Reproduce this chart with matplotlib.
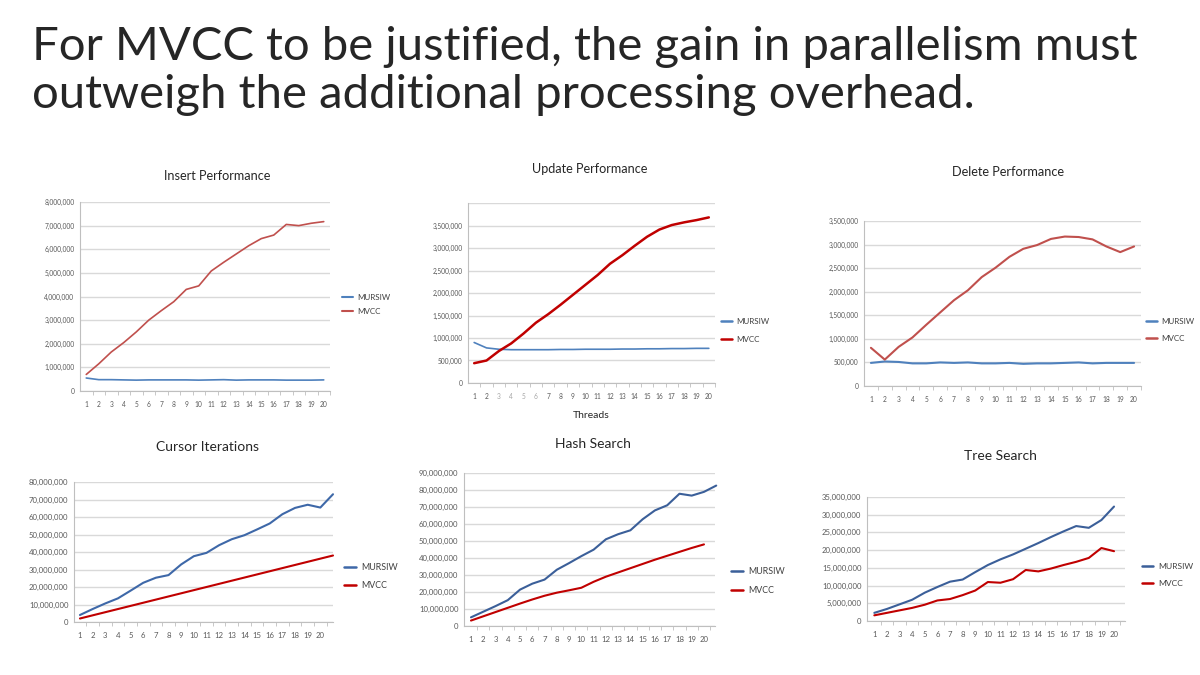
import matplotlib
matplotlib.use('Agg')
import matplotlib.pyplot as plt
import numpy as np

plt.rcParams['font.family'] = ['Lato', 'DejaVu Sans']

W, H = 1200, 675

threads = [str(i) for i in range(1, 21)]

# values (millions of operations per second)
insert_mursiw = [0.55, 0.48, 0.48, 0.47, 0.46, 0.47, 0.47, 0.47, 0.47, 0.46,
                 0.47, 0.48, 0.46, 0.47, 0.47, 0.47, 0.46, 0.46, 0.46, 0.47]
insert_mvcc = [0.70, 1.15, 1.65, 2.05, 2.50, 3.00, 3.40, 3.78, 4.30, 4.45,
               5.08, 5.45, 5.80, 6.15, 6.45, 6.60, 7.05, 7.00, 7.10, 7.17]

update_mursiw = [0.90, 0.78, 0.75, 0.74, 0.74, 0.74, 0.74, 0.745, 0.745, 0.75,
                 0.75, 0.75, 0.755, 0.755, 0.76, 0.76, 0.765, 0.765, 0.77, 0.77]
update_mvcc = [0.44, 0.50, 0.71, 0.88, 1.10, 1.34, 1.53, 1.74, 1.96, 2.18,
               2.40, 2.65, 2.84, 3.05, 3.25, 3.41, 3.51, 3.57, 3.62, 3.68]

delete_mursiw = [0.49, 0.52, 0.51, 0.48, 0.48, 0.50, 0.49, 0.50, 0.48, 0.48,
                 0.49, 0.47, 0.48, 0.48, 0.49, 0.50, 0.48, 0.49, 0.49, 0.49]
delete_mvcc = [0.81, 0.56, 0.83, 1.03, 1.30, 1.56, 1.82, 2.03, 2.31, 2.51,
               2.74, 2.91, 2.99, 3.12, 3.17, 3.16, 3.11, 2.96, 2.84, 2.96]

cursor_mursiw = [4.0, 7.4, 10.6, 13.5, 17.9, 22.4, 25.3, 26.8, 32.9, 37.6,
                 39.5, 43.9, 47.3, 49.6, 52.9, 56.3, 61.6, 65.2, 67.0, 65.4, 73.0]
cursor_mvcc = [2.0, 3.8, 5.6, 7.4, 9.2, 11.0, 12.8, 14.6, 16.4, 18.2,
               20.0, 21.8, 23.6, 25.4, 27.2, 29.0, 30.8, 32.6, 34.4, 36.2, 38.0]

hash_mursiw = [5.1, 8.4, 11.7, 15.2, 21.4, 24.9, 27.3, 33.1, 37.0, 41.1,
               44.9, 51.0, 54.0, 56.3, 62.8, 68.0, 71.0, 77.8, 76.7, 78.9, 82.6]
hash_mvcc = [3.2, 5.7, 8.2, 10.7, 13.2, 15.6, 17.8, 19.6, 21.0, 22.5,
             26.0, 29.0, 31.5, 34.0, 36.5, 39.0, 41.3, 43.6, 45.9, 48.0]

tree_mursiw = [2.3, 3.4, 4.7, 6.0, 8.0, 9.6, 11.1, 11.7, 13.8, 15.8,
               17.4, 18.8, 20.4, 22.0, 23.7, 25.3, 26.8, 26.3, 28.5, 32.3]
tree_mvcc = [1.6, 2.3, 3.0, 3.7, 4.6, 5.8, 6.2, 7.3, 8.6, 11.0,
             10.8, 11.8, 14.4, 14.0, 14.8, 15.8, 16.7, 17.8, 20.6, 19.7]

fig = plt.figure(figsize=(12, 6.75), dpi=100)
fig.patch.set_facecolor('white')

TXT = '#262626'
GRID = '#d9d9d9'
TICK = '#595959'


def box(x0, y0, x1, y1):
    return [x0 / W, 1 - y1 / H, (x1 - x0) / W, (y1 - y0) / H]


def panel(rect, title, tpos, series, colors, widths, ymax, ystep, xlim,
          legpos, fs, lw_leg, tfs=10, hide_top=False):
    ax = fig.add_axes(box(*rect))
    for vals, c, lw in zip(series, colors, widths):
        vals = np.array(vals) * 1e6
        ax.plot(np.arange(len(vals)), vals, color=c, lw=lw,
                solid_capstyle='round', clip_on=False)
    ax.set_xlim(*xlim)
    ax.set_ylim(0, ymax)
    ticks = np.arange(0, ymax + 1, ystep)
    ax.set_yticks(ticks)
    labels = ['{:,.0f}'.format(t) for t in ticks]
    if hide_top:
        labels[-1] = ''
    ax.set_yticklabels(labels)
    ax.set_xticks(np.arange(20))
    ax.set_xticklabels(threads)
    ax.set_xticks(np.arange(20) + 0.5, minor=True)
    ax.tick_params(axis='x', which='major', length=0, labelsize=fs,
                   labelcolor=TICK, pad=7)
    ax.tick_params(axis='x', which='minor', length=3, color='#bfbfbf',
                   direction='out')
    ax.tick_params(axis='y', length=0, labelsize=fs, labelcolor=TICK, pad=4)
    ax.grid(axis='y', color=GRID, lw=1)
    ax.set_axisbelow(True)
    for s in ['top', 'right']:
        ax.spines[s].set_visible(False)
    for s in ['left', 'bottom']:
        ax.spines[s].set_color('#bfbfbf')
        ax.spines[s].set_linewidth(0.8)
    fig.text(tpos[0] / W, 1 - tpos[1] / H, title, ha='center', va='center',
             fontsize=tfs, color=TXT)
    lines = ax.get_lines()
    ax.legend(lines, ['MURSIW', 'MVCC'], loc='center left',
              bbox_to_anchor=(legpos[0] / W, 1 - legpos[1] / H),
              bbox_transform=fig.transFigure, frameon=False,
              fontsize=legpos[3], labelcolor='#404040', handlelength=1.3,
              handletextpad=0.6, labelspacing=legpos[2], borderpad=0)
    for h in ax.get_legend().get_lines():
        h.set_linewidth(lw_leg)
    return ax


blue1, red1 = '#4f81bd', '#c0504d'
blue2, red2 = '#3e68a8', '#c00000'

panel((80, 202, 330, 391), 'Insert Performance', (217, 176),
      [insert_mursiw, insert_mvcc], [blue1, red1], [1.2, 1.2],
      8e6, 1e6, (-0.5, 19.5), (338, 304.5, 0.8, 5.8), 4.8, 1.5, tfs=9.1)

ax2 = panel((468, 203, 715, 383), 'Update Performance', (590, 169),
            [update_mursiw, update_mvcc], [blue1, red2], [1.2, 1.8],
            4e6, 5e5, (-0.5, 19.5), (717, 330.5, 1.3, 5.8), 4.8, 1.8,
            tfs=9.1, hide_top=True)
ax2.set_xlabel('Threads', fontsize=7.5, color=TXT, labelpad=8)
for i, lab in enumerate(ax2.get_xticklabels()):
    if 2 <= i <= 5:
        lab.set_color('#a6a6a6')

panel((864, 221, 1141, 386), 'Delete Performance', (1008, 172),
      [delete_mursiw, delete_mvcc], [blue1, red1], [1.5, 1.5],
      3.5e6, 5e5, (-0.5, 19.5), (1142, 330, 1.3, 5.8), 4.8, 1.8, tfs=9.2)

panel((74, 482, 333, 622), 'Cursor Iterations', (208, 447),
      [cursor_mursiw, cursor_mvcc], [blue2, red2], [1.5, 1.5],
      8e7, 1e7, (-0.47, 20), (340, 576.5, 1.1, 6.4), 5.6, 1.8)

panel((464, 473, 715, 626), 'Hash Search', (593, 444),
      [hash_mursiw, hash_mvcc], ['#3b5f99', red2], [1.5, 1.5],
      9e7, 1e7, (-0.57, 19.9), (727, 581, 1.1, 6.4), 5.6, 1.8)

panel((867, 497, 1125, 621), 'Tree Search', (1000, 456),
      [tree_mursiw, tree_mvcc], ['#3b5f99', red2], [1.5, 1.5],
      3.5e7, 5e6, (-0.58, 19.87), (1138, 575, 1.1, 6.1), 5.6, 1.8)

fig.text(32 / W, 1 - 60 / H,
         'For MVCC to be justified, the gain in parallelism must',
         ha='left', va='baseline', fontsize=34, color=TXT)
fig.text(32 / W, 1 - 108 / H,
         'outweigh the additional processing overhead.',
         ha='left', va='baseline', fontsize=34, color=TXT)

fig.savefig('out.png', dpi=100, facecolor='white')
